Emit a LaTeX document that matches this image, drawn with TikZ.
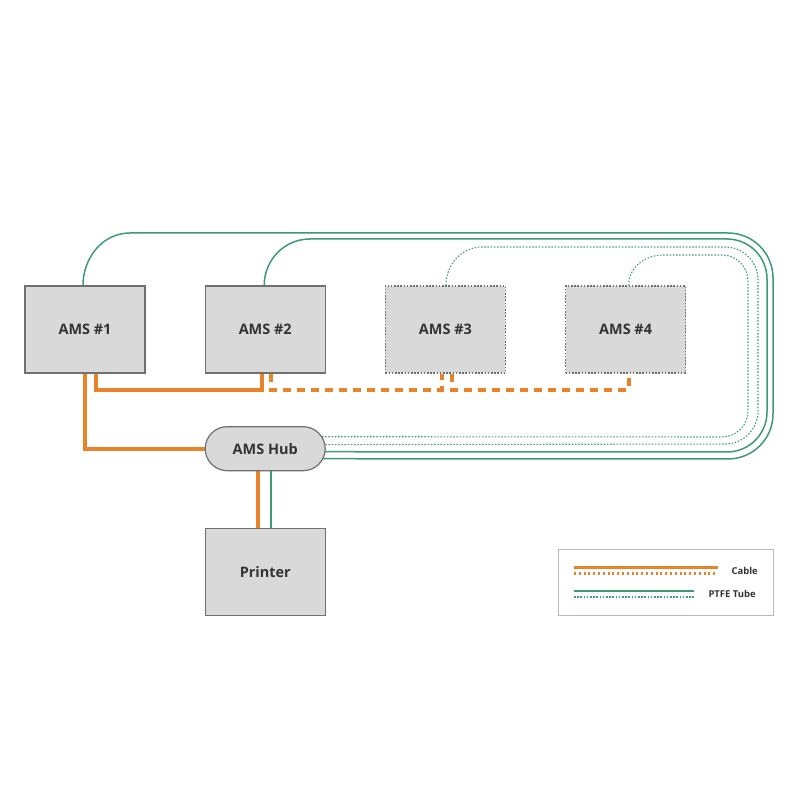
\documentclass[tikz,border=0pt]{standalone}
\usepackage{fontspec}
\setmainfont{Open Sans}
\usetikzlibrary{positioning,backgrounds}
\definecolor{cableorange}{HTML}{E8832A}
\definecolor{tubegreen}{HTML}{3D9B73}
\definecolor{boxgray}{HTML}{D9D9D9}
\definecolor{edgegray}{HTML}{707070}
\definecolor{textgray}{HTML}{333333}
\begin{document}
\begin{tikzpicture}[x=1bp,y=1bp,
	ams/.style={draw=edgegray,line width=1.2bp,fill=boxgray,minimum width=120bp,minimum height=87bp,text=textgray,font=\bfseries\fontsize{14.5}{16}\selectfont},
	amsopt/.style={ams,dash pattern=on 1.6bp off 1.6bp},
	hubbox/.style={ams,minimum height=44bp,rounded corners=22bp},
	cable/.style={draw=cableorange,line width=4bp},
	cabledash/.style={cable,dash pattern=on 8bp off 6bp},
	tube/.style={draw=tubegreen,line width=1.5bp},
	tubedot/.style={draw=tubegreen,line width=1.1bp,dash pattern=on 1.5bp off 1.7bp},
	legendtext/.style={anchor=west,text=textgray,font=\bfseries\fontsize{9.5}{11}\selectfont}]
	\useasboundingbox (0,0) rectangle (800,800);
	% units
	\node[ams] (ams1) at (85,470.5) {AMS \#1};
	\node[ams,right=59bp of ams1] (ams2) {AMS \#2};
	\node[amsopt,right=59bp of ams2] (ams3) {AMS \#3};
	\node[amsopt,right=59bp of ams3] (ams4) {AMS \#4};
	\node[hubbox,below=52.5bp of ams2] (hub) {AMS Hub};
	\node[ams,below=56.5bp of hub] (printer) {Printer};
	\begin{scope}[on background layer]
		% cables
		\draw[cable] (ams1.south) |- (hub.west);
		\draw[cable] ([xshift=11bp]ams1.south) -- ++(0,-16) -| ([xshift=-3bp]ams2.south);
		\draw[cabledash] ([xshift=6bp]ams2.south) -- ++(0,-16) -| ([xshift=-3.5bp]ams3.south);
		\draw[cabledash] ([xshift=6.5bp]ams3.south) -- ++(0,-16) -| ([xshift=3bp]ams4.south);
		\draw[cable] ([xshift=-7bp]hub.south) -- ([xshift=-7bp]printer.north);
		\draw[tube] ([xshift=6bp]hub.south) -- ([xshift=6bp]printer.north);
		% tubes
		\draw[tube] ([xshift=-2bp]ams1.north) to[out=90,in=180] (130,567) [rounded corners=45bp] -- (773,567) -- (773,341) -- ([yshift=-10bp]hub.center);
		\draw[tube] ([xshift=-1bp]ams2.north) to[out=90,in=180] (310,561) [rounded corners=40bp] -- (767,561) -- (767,348) -- ([yshift=-3bp]hub.center);
		\draw[tubedot] ([xshift=0.5bp]ams3.north) to[out=90,in=180] (482,553) [rounded corners=33bp] -- (758,553) -- (758,356) -- ([yshift=4bp]hub.center);
		\draw[tubedot] ([xshift=3bp]ams4.north) to[out=90,in=180] (663,545) [rounded corners=26bp] -- (748,545) -- (748,363) -- ([yshift=12bp]hub.center);
	\end{scope}
	% legend
	\draw[edgegray!50,line width=1bp] (558,184) rectangle (773,250);
	\draw[cable,line width=3bp] (574,232) -- (718,232);
	\draw[cableorange,line width=3bp,dash pattern=on 2bp off 2.8bp] (574,226) -- (718,226);
	\draw[tube] (574,209) -- (694,209);
	\draw[tubedot] (574,203) -- (694,203);
	\node[legendtext] (cablelabel) at (728,229) {Cable};
	\node[legendtext] (tubelabel) at (705,206) {PTFE Tube};
\end{tikzpicture}
\end{document}
